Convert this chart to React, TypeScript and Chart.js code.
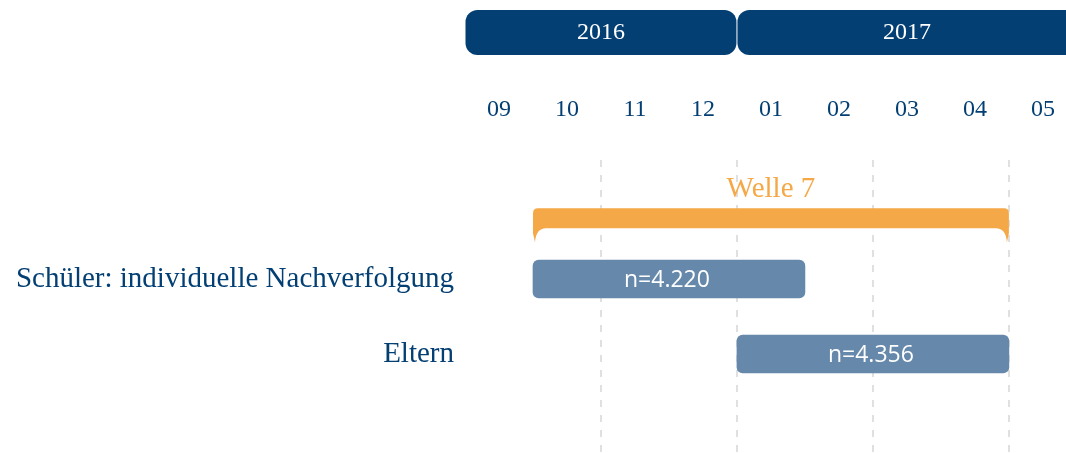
import React, { useEffect, useRef } from "react";
import { Chart, registerables } from "chart.js";

Chart.register(...registerables);

// Time axis: months counted from 2016-09-01
const monthLabels = ["09", "10", "11", "12", "01", "02", "03", "04", "05"];
const monthTicks = [0.5, 1.5, 2.5, 3.5, 4.5, 5.5, 6.5, 7.5, 8.5];
const gridMonths = [2, 4, 6, 8];

const years = ["2016", "2017"];
const yearStart = [0, 4];
const yearEnd = [4, 9];

const rowLabels = ["Schüler: individuelle Nachverfolgung", "Eltern"];
const rowPositions = [1, 2];
const barStart = [1, 4];
const barEnd = [5, 8];
const barText = ["n=4.220", "n=4.356"];

const welleLabel = "Welle 7";
const welleStart = [1];
const welleEnd = [8];
const welleRow = [0.19];

const NAVY = "#033f73";
const ORANGE = "#f5a847";
const BAR = "#6689ab";
const GRID = "#e0e0e0";
const SERIF = "'Liberation Serif', serif";
const SANS = "'Open Sans', sans-serif";

const noPad = (axis: any) => {
  axis.paddingLeft = 0;
  axis.paddingRight = 0;
  axis.paddingTop = 0;
  axis.paddingBottom = 0;
};

const overlayPlugin = {
  id: "overlay",
  afterDatasetsDraw(chart: any) {
    const ctx = chart.ctx;
    const xs = chart.scales.x;
    const ys = chart.scales.y;
    ctx.save();
    // bar labels
    ctx.fillStyle = "#ffffff";
    ctx.font = `23px ${SANS}`;
    ctx.textAlign = "center";
    ctx.textBaseline = "middle";
    rowPositions.forEach((r, i) => {
      const cx = xs.getPixelForValue((barStart[i] + barEnd[i]) / 2);
      const cy = ys.getPixelForValue(r);
      ctx.fillText(barText[i], cx - 2, cy + 1);
    });

    // Welle bracket
    welleStart.forEach((s, i) => {
      const L = xs.getPixelForValue(s);
      const R = xs.getPixelForValue(welleEnd[i]);
      const yc = ys.getPixelForValue(welleRow[i]);
      const T = yc - 10;
      const B = yc + 10;
      const H = B + 14;
      const r = 5;
      ctx.fillStyle = ORANGE;
      ctx.beginPath();
      ctx.moveTo(L + r, T);
      ctx.lineTo(R - r, T);
      ctx.quadraticCurveTo(R, T, R, T + r);
      ctx.lineTo(R, H - 9);
      ctx.lineTo(R - 2, H);
      ctx.quadraticCurveTo(R - 3, B, R - 13, B);
      ctx.lineTo(L + 13, B);
      ctx.quadraticCurveTo(L + 3, B, L + 2, H);
      ctx.lineTo(L, H - 9);
      ctx.lineTo(L, T + r);
      ctx.quadraticCurveTo(L, T, L + r, T);
      ctx.closePath();
      ctx.fill();
      ctx.font = `29px ${SERIF}`;
      ctx.textAlign = "center";
      ctx.textBaseline = "alphabetic";
      ctx.fillText(welleLabel, (L + R) / 2, T - 11);
    });

    // Year bars
    years.forEach((y, i) => {
      const a = xs.getPixelForValue(yearStart[i]);
      const b = xs.getPixelForValue(yearEnd[i]);
      ctx.fillStyle = NAVY;
      ctx.beginPath();
      (ctx as any).roundRect(a + 0.5, 10, b - a - 1, 45, 12);
      ctx.fill();
      ctx.fillStyle = "#ffffff";
      ctx.font = `24px ${SERIF}`;
      ctx.textAlign = "center";
      ctx.textBaseline = "middle";
      ctx.fillText(y, (a + b) / 2, 33);
    });
    ctx.restore();
  },
};

export default function App() {
  const ref = useRef<HTMLCanvasElement | null>(null);
  useEffect(() => {
    if (!ref.current) return;
    const chart = new Chart(ref.current, {
      type: "bar",
      data: {
        datasets: [
          {
            data: rowPositions.map((y, i) => ({ x: [barStart[i], barEnd[i]], y })) as any,
            backgroundColor: BAR,
            borderRadius: 6,
            borderSkipped: false,
            barThickness: 38,
          },
        ],
      },
      options: {
        indexAxis: "y",
        animation: false,
        responsive: false,
        layout: { padding: 0, autoPadding: false },
        plugins: { legend: { display: false }, tooltip: { enabled: false } },
        scales: {
          x: {
            type: "linear",
            position: "top",
            min: 0,
            max: 8.84,
            offset: false,
            afterBuildTicks: (axis: any) => {
              axis.ticks = monthTicks.map((v) => ({ value: v }));
            },
            afterFit: (axis: any) => {
              axis.height = 160;
              noPad(axis);
            },
            ticks: {
              autoSkip: false,
              maxRotation: 0,
              padding: 36,
              color: NAVY,
              font: { family: SERIF, size: 24 },
              callback: (_v: any, i: number) => monthLabels[i],
            },
            grid: { display: false, drawTicks: false },
            border: { display: false },
          },
          x2: {
            type: "linear",
            position: "bottom",
            min: 0,
            max: 8.84,
            offset: false,
            afterBuildTicks: (axis: any) => {
              axis.ticks = gridMonths.map((v) => ({ value: v }));
            },
            afterFit: (axis: any) => {
              axis.height = 0;
              noPad(axis);
            },
            ticks: { display: false, padding: 0 },
            grid: { color: GRID, lineWidth: 2, drawTicks: false, offset: false },
            border: { display: false, dash: [7, 8] },
          },
          y: {
            type: "linear",
            reverse: true,
            min: -0.587,
            max: 3.32,
            offset: false,
            afterBuildTicks: (axis: any) => {
              axis.ticks = rowPositions.map((v) => ({ value: v }));
            },
            afterFit: (axis: any) => {
              axis.width = 465;
              noPad(axis);
            },
            ticks: {
              padding: 11,
              color: NAVY,
              font: { family: SERIF, size: 29 },
              callback: (v: any) => rowLabels[rowPositions.indexOf(Number(v))],
            },
            grid: { display: false, drawTicks: false, offset: false },
            border: { display: false },
          },
        },
      } as any,
      plugins: [overlayPlugin],
    });
    return () => chart.destroy();
  }, []);
  return (
    <div style={{ position: "fixed", left: 0, top: 0, width: 1066, height: 453, background: "#fff" }}>
      <canvas ref={ref} width={1066} height={453} style={{ display: "block" }} />
    </div>
  );
}
